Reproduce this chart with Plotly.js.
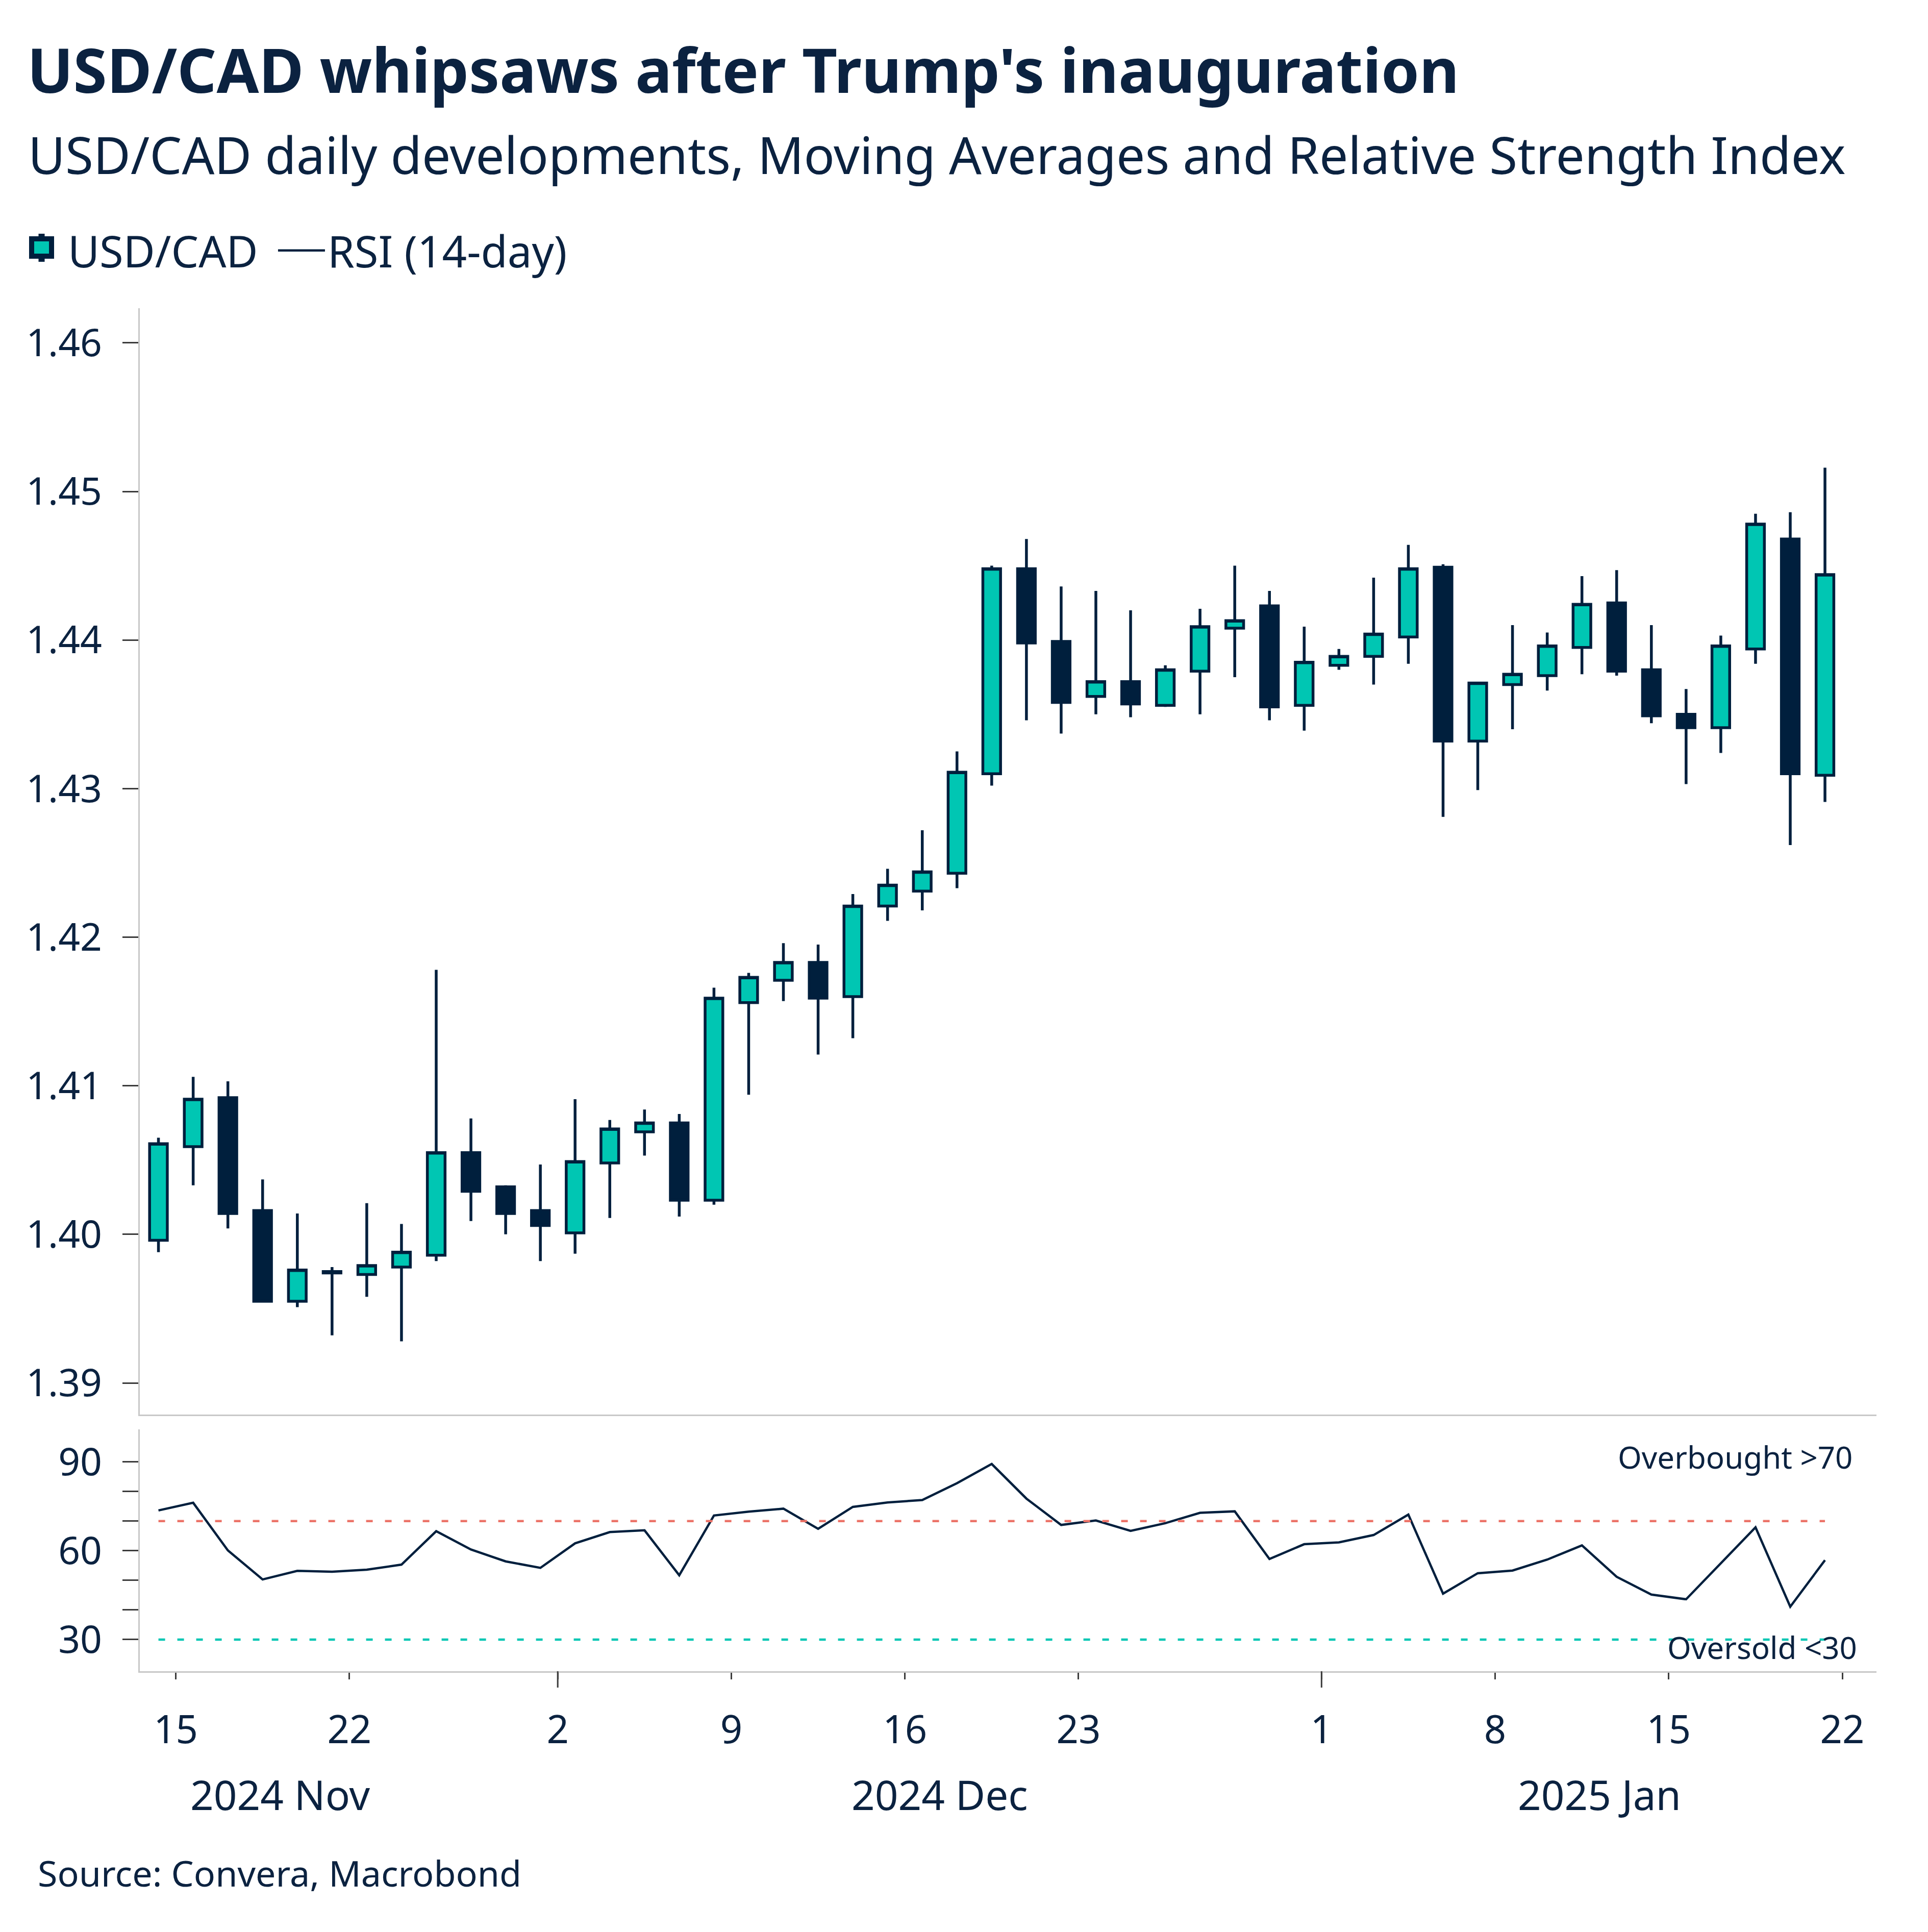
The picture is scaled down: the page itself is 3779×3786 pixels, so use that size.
<!DOCTYPE html>
<html>
<head>
<meta charset="utf-8">
<script src="https://cdn.plot.ly/plotly-3.0.1.min.js"></script>
<style>html,body{margin:0;padding:0;background:#fff;} #chart{width:3779px;height:3786px;}</style>
</head>
<body>
<div id="chart"></div>
<script>
// ---- data ----
const dates = ['2024-11-14','2024-11-15','2024-11-18','2024-11-19','2024-11-20','2024-11-21','2024-11-22','2024-11-25','2024-11-26','2024-11-27','2024-11-28','2024-11-29',
  '2024-12-02','2024-12-03','2024-12-04','2024-12-05','2024-12-06','2024-12-09','2024-12-10','2024-12-11','2024-12-12','2024-12-13','2024-12-16','2024-12-17','2024-12-18','2024-12-19','2024-12-20','2024-12-23','2024-12-24','2024-12-25','2024-12-26','2024-12-27','2024-12-30','2024-12-31',
  '2025-01-01','2025-01-02','2025-01-03','2025-01-06','2025-01-07','2025-01-08','2025-01-09','2025-01-10','2025-01-13','2025-01-14','2025-01-15','2025-01-16','2025-01-17','2025-01-20','2025-01-21'];
const openPx  = [1.3996,1.4059,1.4092,1.4016,1.3955,1.3975,1.3973,1.3978,1.3986,1.4055,1.4032,1.4016,1.4001,1.4048,1.4069,1.4075,1.4023,1.4156,1.4171,1.4183,1.4160,1.4221,1.4231,1.4243,1.4310,1.4448,1.4399,1.4362,1.4372,1.4356,1.4379,1.4408,1.4423,1.4356,1.4383,1.4389,1.4402,1.4449,1.4332,1.4370,1.4376,1.4395,1.4425,1.4380,1.4350,1.4341,1.4394,1.4468,1.4309];
const highPx  = [1.4065,1.4106,1.4103,1.4037,1.4014,1.3978,1.4021,1.4007,1.4178,1.4078,1.4033,1.4047,1.4091,1.4077,1.4084,1.4081,1.4166,1.4176,1.4196,1.4195,1.4229,1.4246,1.4272,1.4325,1.4450,1.4468,1.4436,1.4433,1.4420,1.4383,1.4421,1.4450,1.4433,1.4409,1.4394,1.4442,1.4464,1.4451,1.4371,1.4410,1.4405,1.4443,1.4447,1.4410,1.4367,1.4403,1.4485,1.4486,1.4516];
const lowPx   = [1.3988,1.4033,1.4004,1.3955,1.3951,1.3932,1.3958,1.3928,1.3982,1.4009,1.4000,1.3982,1.3987,1.4011,1.4053,1.4012,1.4020,1.4094,1.4157,1.4121,1.4132,1.4211,1.4218,1.4233,1.4302,1.4346,1.4337,1.4350,1.4348,1.4355,1.4350,1.4375,1.4346,1.4339,1.4380,1.4370,1.4384,1.4281,1.4299,1.4340,1.4366,1.4377,1.4376,1.4344,1.4303,1.4324,1.4384,1.4262,1.4291];
const closePx = [1.4061,1.4091,1.4014,1.3955,1.3976,1.3974,1.3979,1.3988,1.4055,1.4029,1.4014,1.4006,1.4049,1.4071,1.4075,1.4023,1.4159,1.4173,1.4183,1.4159,1.4221,1.4235,1.4244,1.4311,1.4448,1.4398,1.4358,1.4372,1.4357,1.4380,1.4409,1.4413,1.4355,1.4385,1.4389,1.4404,1.4448,1.4332,1.4371,1.4377,1.4396,1.4424,1.4379,1.4349,1.4341,1.4396,1.4478,1.4310,1.4444];
const rsi = [73.6,76.2,60.1,50.3,53.2,52.9,53.6,55.3,66.6,60.4,56.4,54.2,62.5,66.3,66.9,51.7,71.9,73.2,74.2,67.4,74.8,76.3,77.1,82.8,89.3,
  77.6,68.7,70.2,66.7,69.3,72.8,73.3,57.2,62.2,62.8,65.3,72.2,45.5,52.4,53.3,57.0,61.8,51.2,45.2,43.6,55.8,67.9,41.1,56.8];
const overbought = 70;
const oversold = 30;
const tickDates  = ['2024-11-15','2024-11-22','2024-12-02','2024-12-09','2024-12-16','2024-12-23','2025-01-01','2025-01-08','2025-01-15','2025-01-22'];
const tickLabels = ['15','22','2','9','16','23','1','8','15','22'];
const monthStarts = ['2024-12-02','2025-01-01'];
const monthLabels = ['2024 Nov','2024 Dec','2025 Jan'];
const monthLabelDates = ['2024-11-20','2024-12-17','2025-01-13'];
const priceTicks = [1.39,1.40,1.41,1.42,1.43,1.44,1.45,1.46];
const rsiTicks = [30,40,50,60,70,80,90];
const rsiTickLabels = ['30','','','60','','','90'];

// ---- styles ----
const TEAL = '#00C6B3', NAVY = '#001F3D', RED = '#EC7368', AXIS = '#C8C8C8', TICK = '#3C3C3C', TXT = '#0B2240';
const FONT = 'Noto Sans, Open Sans, sans-serif';
const xs = dates.map(d => d + ' 12:00');

function baseX() {
  return {type: 'date', range: ['2024-11-13 23:06', '2025-01-22 23:36'], rangebreaks: [{bounds: ['sat', 'mon']}],
    showgrid: false, zeroline: false, showline: true, linecolor: AXIS, linewidth: 3, fixedrange: true,
    rangeslider: {visible: false}};
}

const traces = [
  {type: 'candlestick', name: 'USD/CAD', showlegend: false, x: xs, open: openPx, high: highPx, low: lowPx, close: closePx,
   xaxis: 'x', yaxis: 'y', whiskerwidth: 0,
   increasing: {fillcolor: TEAL, line: {color: NAVY, width: 5.5}},
   decreasing: {fillcolor: NAVY, line: {color: NAVY, width: 5.5}},
   hoverinfo: 'skip'},
  // legend entry for the candles (icon drawn as a layout decoration below)
  {type: 'scatter', mode: 'lines', name: 'USD/CAD', x: [null], y: [null], xaxis: 'x', yaxis: 'y',
   line: {color: 'rgba(0,0,0,0)', width: 0}, legendwidth: 402, hoverinfo: 'skip'},
  {type: 'scatter', mode: 'lines', name: 'RSI (14-day)', x: xs, y: rsi, xaxis: 'x2', yaxis: 'y2',
   line: {color: NAVY, width: 4.5}, hoverinfo: 'skip'},
  {type: 'scatter', mode: 'lines', showlegend: false, x: [xs[0], xs[xs.length-1]], y: [overbought, overbought],
   xaxis: 'x2', yaxis: 'y2', line: {color: RED, width: 4.5, dash: '13px,24px'}, hoverinfo: 'skip'},
  {type: 'scatter', mode: 'lines', showlegend: false, x: [xs[0], xs[xs.length-1]], y: [oversold, oversold],
   xaxis: 'x2', yaxis: 'y2', line: {color: TEAL, width: 4.5, dash: '13px,24px'}, hoverinfo: 'skip'}
];

const legendIcon = [
  {type: 'line', xref: 'paper', yref: 'paper', x0: -0.05655, x1: -0.05655, y0: 1.03407, y1: 1.05466,
   line: {color: NAVY, width: 12}},
  {type: 'rect', xref: 'paper', yref: 'paper', x0: -0.06228, x1: -0.05082, y0: 1.03819, y1: 1.05092,
   fillcolor: TEAL, line: {color: NAVY, width: 10}}
];

const layout = {
  width: 3779, height: 3786,
  margin: {l: 274, r: 101, t: 604, b: 511},
  paper_bgcolor: '#fff', plot_bgcolor: '#fff',
  font: {family: FONT, color: TXT, size: 76},
  hovermode: false,
  boxgap: 0.49, boxgroupgap: 0,
  title: {text: "USD/CAD whipsaws after Trump's inauguration", xref: 'container', yref: 'container',
    x: 0.014, xanchor: 'left', y: 0.963, yanchor: 'middle',
    font: {family: FONT, size: 120, weight: 700, color: TXT}},
  showlegend: true,
  legend: {orientation: 'h', x: -0.0714, xanchor: 'left', y: 1.0423, yanchor: 'middle',
    font: {family: FONT, size: 85, color: TXT}, itemwidth: 92, bgcolor: 'rgba(0,0,0,0)'},
  xaxis: Object.assign(baseX(), {anchor: 'y', domain: [0, 1], ticks: '', showticklabels: false}),
  yaxis: {domain: [0.1883, 1], anchor: 'x', range: [1.38787, 1.46233], tickmode: 'array', tickvals: priceTicks,
    tickformat: '.2f', ticks: 'outside', ticklen: 31, tickwidth: 3, tickcolor: TICK,
    showline: true, linecolor: AXIS, linewidth: 3, showgrid: false, zeroline: false,
    ticklabelstandoff: 25, tickfont: {size: 75, color: TXT}, fixedrange: true},
  xaxis2: Object.assign(baseX(), {anchor: 'y2', domain: [0, 1], tickmode: 'array', tickvals: tickDates, ticktext: tickLabels,
    ticks: 'outside', ticklen: 13, tickwidth: 3, tickcolor: TICK, ticklabelstandoff: 34,
    tickfont: {size: 76, color: TXT}}),
  yaxis2: {domain: [0, 0.1775], anchor: 'x2', range: [19.3, 101], tickmode: 'array', tickvals: rsiTicks, ticktext: rsiTickLabels,
    ticks: 'outside', ticklen: 31, tickwidth: 3, tickcolor: TICK,
    showline: true, linecolor: AXIS, linewidth: 3, showgrid: false, zeroline: false,
    ticklabelstandoff: 25, tickfont: {size: 75, color: TXT}, fixedrange: true},
  shapes: monthStarts.map(d => ({type: 'line', xref: 'x2', yref: 'paper', x0: d, x1: d, y0: 0, y1: -0.012,
    line: {color: TICK, width: 3}})).concat(legendIcon),
  annotations: [
    {text: 'USD/CAD daily developments, Moving Averages and Relative Strength Index', xref: 'paper', yref: 'paper',
     x: -0.0649, xanchor: 'left', y: 1.1131, yanchor: 'middle', showarrow: false, font: {size: 100, color: TXT}},
    {text: 'Source: Convera, Macrobond', xref: 'paper', yref: 'paper', x: -0.0593, xanchor: 'left', y: -0.1479, yanchor: 'middle',
     showarrow: false, font: {size: 70, color: TXT}},
    {text: 'Overbought >70', xref: 'paper', yref: 'y2', x: 0.9868, xanchor: 'right', y: 91.7, yanchor: 'middle',
     showarrow: false, font: {size: 60, color: TXT}},
    {text: 'Oversold <30', xref: 'paper', yref: 'y2', x: 0.9894, xanchor: 'right', y: 27.4, yanchor: 'middle',
     showarrow: false, font: {size: 60, color: TXT}}
  ].concat(monthLabels.map((m, i) => ({text: m, xref: 'x2', yref: 'paper', x: monthLabelDates[i], xanchor: 'center',
     y: -0.0902, yanchor: 'middle', showarrow: false, font: {size: 80, color: TXT}})))
};

Plotly.newPlot('chart', traces, layout, {staticPlot: true, displayModeBar: false});
</script>
</body>
</html>
